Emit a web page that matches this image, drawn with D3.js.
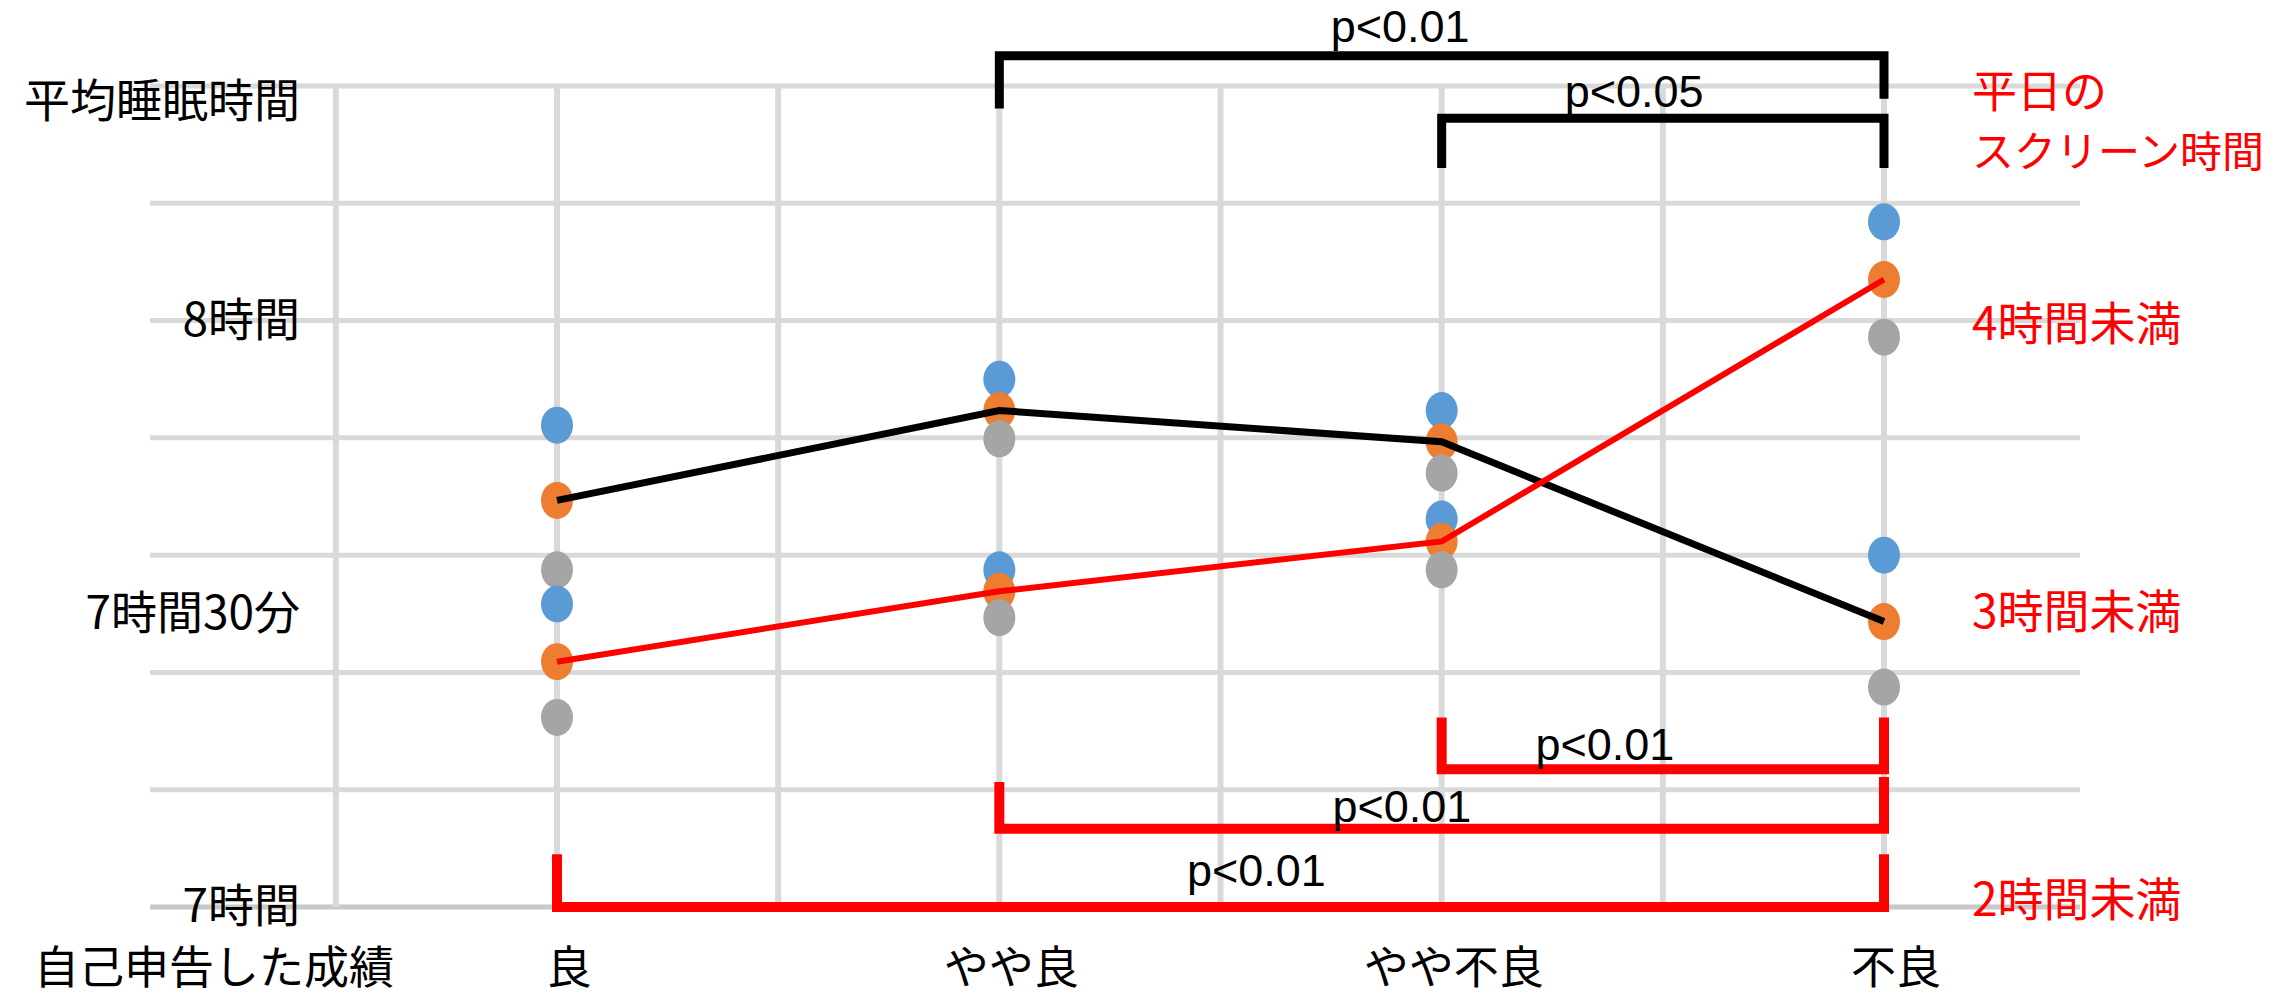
<!DOCTYPE html>
<html>
<head>
<meta charset="utf-8">
<script src="https://cdn.jsdelivr.net/npm/d3@7"></script>
<style>
  body { margin: 0; background: #fff; }
</style>
</head>
<body>
<div id="container"></div>
<script>
// self-reported grade categories
const categories = ["良", "やや良", "やや不良", "不良"];

// average sleep in minutes, upper / mean / lower per group
const groupAUpper = [469.3, 474.0, 470.8, 456.0];
const groupAMean = [461.6, 470.8, 467.6, 449.2];
const groupALower = [454.5, 467.9, 464.4, 442.5];
const groupBUpper = [451.0, 454.5, 459.7, 490.1];
const groupBMean = [445.1, 452.3, 457.4, 484.2];
const groupBLower = [439.4, 449.6, 454.5, 478.3];

const yTickValues = [480, 450, 420];
const yTickLabels = ["8時間", "7時間30分", "7時間"];
const screenTickValues = [4, 3, 2];
const screenTickLabels = ["4時間未満", "3時間未満", "2時間未満"];

// significance brackets (levels in minutes)
const blackBrackets = [
  { from: "やや良", to: "不良", bar: 507.1, leftTip: 501.7, rightTip: 502.7, label: "p<0.01", labelAt: 0.453, labelLevel: 508.5 },
  { from: "やや不良", to: "不良", bar: 500.7, leftTip: 495.6, rightTip: 495.6, label: "p<0.05", labelAt: 0.435, labelLevel: 501.9 },
];
const redBrackets = [
  { from: "やや不良", to: "不良", bar: 434.1, leftTip: 439.4, rightTip: 439.4, label: "p<0.01", labelAt: 0.369, labelLevel: 435.0 },
  { from: "やや良", to: "不良", bar: 428.0, leftTip: 432.8, rightTip: 433.3, label: "p<0.01", labelAt: 0.455, labelLevel: 428.7 },
  { from: "良", to: "不良", bar: 420.0, leftTip: 425.4, rightTip: 425.4, label: "p<0.01", labelAt: 0.527, labelLevel: 422.1 },
];

const width = 2284;
const height = 999;
const jpFont = "'Noto Sans CJK JP', 'Noto Sans', sans-serif";
const latinFont = "'Liberation Sans', Arial, sans-serif";

const svg = d3.select("#container").append("svg")
  .attr("width", width)
  .attr("height", height);

const x = d3.scalePoint().domain(categories).range([557, 1884]);
const y = d3.scaleLinear().domain([420, 504]).range([907, 86]);
const y2 = d3.scaleLinear().domain([2, 4]).range([896, 320]);
const step = x.step();

// gridlines
svg.append("g").selectAll("line")
  .data(d3.range(420, 505, 12))
  .join("line")
  .attr("x1", 150).attr("x2", 2080)
  .attr("y1", d => y(d)).attr("y2", d => y(d))
  .attr("stroke", d => d === 420 ? "#c8c8c8" : "#d9d9d9")
  .attr("stroke-width", 5);

svg.append("g").selectAll("line")
  .data(d3.range(0, 8).map(i => x(categories[0]) - step / 2 + i * step / 2))
  .join("line")
  .attr("x1", d => d).attr("x2", d => d)
  .attr("y1", y(504)).attr("y2", y(420))
  .attr("stroke", "#d9d9d9")
  .attr("stroke-width", 6);

// dots
function drawDots(values, color) {
  svg.append("g").selectAll("ellipse")
    .data(values)
    .join("ellipse")
    .attr("cx", (d, i) => x(categories[i]))
    .attr("cy", d => y(d))
    .attr("rx", 16)
    .attr("ry", 18.5)
    .attr("fill", color);
}
drawDots(groupAUpper, "#5b9bd5");
drawDots(groupAMean, "#ed7d31");
drawDots(groupALower, "#a5a5a5");
drawDots(groupBUpper, "#5b9bd5");
drawDots(groupBMean, "#ed7d31");
drawDots(groupBLower, "#a5a5a5");

// mean lines
const line = d3.line()
  .x((d, i) => x(categories[i]))
  .y(d => y(d));

svg.append("path")
  .attr("d", line(groupAMean))
  .attr("fill", "none")
  .attr("stroke", "#000")
  .attr("stroke-width", 7);

svg.append("path")
  .attr("d", line(groupBMean))
  .attr("fill", "none")
  .attr("stroke", "#ff0000")
  .attr("stroke-width", 6);

// brackets
function drawBrackets(list, color) {
  const g = svg.append("g");
  list.forEach(b => {
    const x1 = x(b.from);
    const x2 = x(b.to);
    g.append("path")
      .attr("d", `M${x1},${y(b.leftTip)}V${y(b.bar)}H${x2}V${y(b.rightTip)}`)
      .attr("fill", "none")
      .attr("stroke", color)
      .attr("stroke-width", color === "#000" ? 9 : 10)
      .attr("stroke-linejoin", "miter");
    g.append("text")
      .attr("x", x1 + b.labelAt * (x2 - x1))
      .attr("y", y(b.labelLevel))
      .attr("text-anchor", "middle")
      .attr("font-family", latinFont)
      .attr("font-size", 45)
      .attr("fill", "#000")
      .text(b.label);
  });
}
drawBrackets(blackBrackets, "#000");
drawBrackets(redBrackets, "#ff0000");

// left axis labels
const yAxis = d3.axisLeft(y)
  .tickValues(yTickValues)
  .tickFormat((d, i) => yTickLabels[i])
  .tickSize(0)
  .tickPadding(0);

svg.append("g")
  .attr("transform", "translate(300,0)")
  .call(yAxis)
  .call(g => g.select(".domain").remove())
  .selectAll("text")
  .attr("font-family", jpFont)
  .attr("font-size", 46)
  .attr("fill", "#000");

svg.append("text")
  .attr("x", 300).attr("y", 97)
  .attr("text-anchor", "end")
  .attr("dominant-baseline", "central")
  .attr("font-family", jpFont)
  .attr("font-size", 46)
  .text("平均睡眠時間");

// bottom labels
svg.append("g").selectAll("text")
  .data(categories)
  .join("text")
  .attr("x", d => x(d) + 12)
  .attr("y", 964)
  .attr("text-anchor", "middle")
  .attr("dominant-baseline", "central")
  .attr("font-family", jpFont)
  .attr("font-size", 45)
  .text(d => d);

svg.append("text")
  .attr("x", 34).attr("y", 964)
  .attr("dominant-baseline", "central")
  .attr("font-family", jpFont)
  .attr("font-size", 45)
  .text("自己申告した成績");

// right screen-time labels
svg.append("g").selectAll("text")
  .data(screenTickValues)
  .join("text")
  .attr("x", 1972)
  .attr("y", d => y2(d))
  .attr("dominant-baseline", "central")
  .attr("font-family", jpFont)
  .attr("font-size", 46)
  .attr("fill", "#ff0000")
  .text((d, i) => screenTickLabels[i]);

svg.append("text")
  .attr("x", 1972).attr("y", 88)
  .attr("dominant-baseline", "central")
  .attr("font-family", jpFont)
  .attr("font-size", 45)
  .attr("fill", "#ff0000")
  .text("平日の");

svg.append("text")
  .attr("x", 1972).attr("y", 148)
  .attr("dominant-baseline", "central")
  .attr("font-family", jpFont)
  .attr("font-size", 42)
  .attr("fill", "#ff0000")
  .text("スクリーン時間");
</script>
</body>
</html>
